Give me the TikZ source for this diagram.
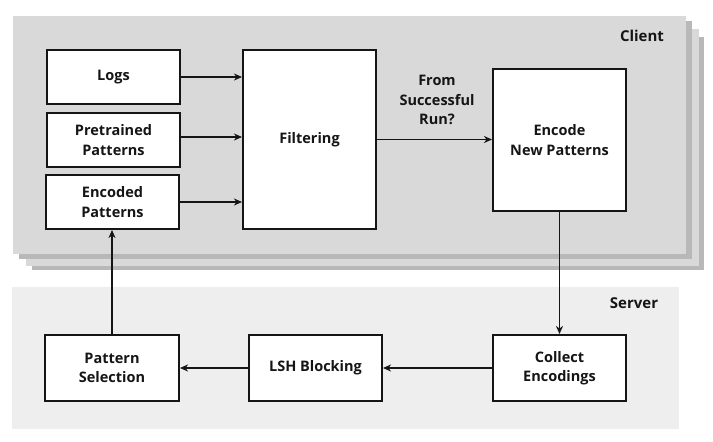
\documentclass[tikz,border=0pt]{standalone}
\usepackage{fontspec}
\setmainfont{Open Sans}
\usetikzlibrary{arrows.meta}
\definecolor{lightpanel}{HTML}{D9D9D9}
\definecolor{darkpanel}{HTML}{B8B8B8}
\definecolor{serverpanel}{HTML}{EEEEEE}
\definecolor{ink}{HTML}{151515}
\tikzset{
  box/.style={draw=ink, line width=2pt, fill=white, inner sep=0pt, minimum width=133pt, align=center, font=\fontsize{14.5}{19.5}\selectfont\bfseries, text=ink},
  conn/.style={draw=ink, line width=1.7pt, -{Stealth[length=8pt,width=7pt,inset=2.5pt]}},
  paneltitle/.style={font=\fontsize{15}{18}\selectfont\bfseries, text=ink, inner sep=0pt},
}
\begin{document}
\begin{tikzpicture}[x=1pt,y=-1pt]
\useasboundingbox (0,0) rectangle (713,442);
\fill[white] (0,0) rectangle (713,442);
% client stacked panels
\fill[darkpanel] (32,37) rectangle (704,270);
\fill[lightpanel] (26,29) rectangle (699,266);
\fill[darkpanel] (19,21) rectangle (692,259);
\fill[lightpanel] (13,16) rectangle (686,254);
% server panel
\fill[serverpanel] (12,287) rectangle (679,429);
\node[paneltitle] (client) at (642,36) {Client};
\node[paneltitle] (server) at (634,303) {Server};
% client nodes
\node[box, minimum height=54pt] (logs) at (113.5,77) {Logs};
\node[box, minimum height=54pt] (pre) at (113.5,140) {Pretrained\\Patterns};
\node[box, minimum height=54pt] (enc) at (112.5,202) {Encoded\\Patterns};
\node[box, minimum height=179pt] (filt) at (309.5,139.5) {Filtering};
\node[box, minimum height=142pt] (newp) at (559.5,140) {Encode\\New Patterns};
\node[font=\fontsize{14.5}{19.5}\selectfont\bfseries, text=ink, align=center, inner sep=0pt] (lbl) at (437,100) {From\\Successful\\Run?};
% server nodes
\node[box, minimum height=66pt, minimum width=134pt] (sel) at (112,368) {Pattern\\Selection};
\node[box, minimum height=66pt] (lsh) at (315.5,368) {LSH Blocking};
\node[box, minimum height=66pt] (coll) at (559.5,368) {Collect\\Encodings};
% connectors
\draw[conn] (logs.east) -- (logs.east -| filt.west);
\draw[conn] ([yshift=3pt]pre.east) -- ([yshift=3pt]pre.east -| filt.west);
\draw[conn] (enc.east) -- (enc.east -| filt.west);
\draw[conn] (filt.east) -- (filt.east -| newp.west);
\draw[conn] (newp.south) -- (coll.north);
\draw[conn] (coll.west) -- (lsh.east);
\draw[conn] (lsh.west) -- (sel.east);
\draw[conn] (sel.north) -- (sel.north |- enc.south);
\end{tikzpicture}
\end{document}
